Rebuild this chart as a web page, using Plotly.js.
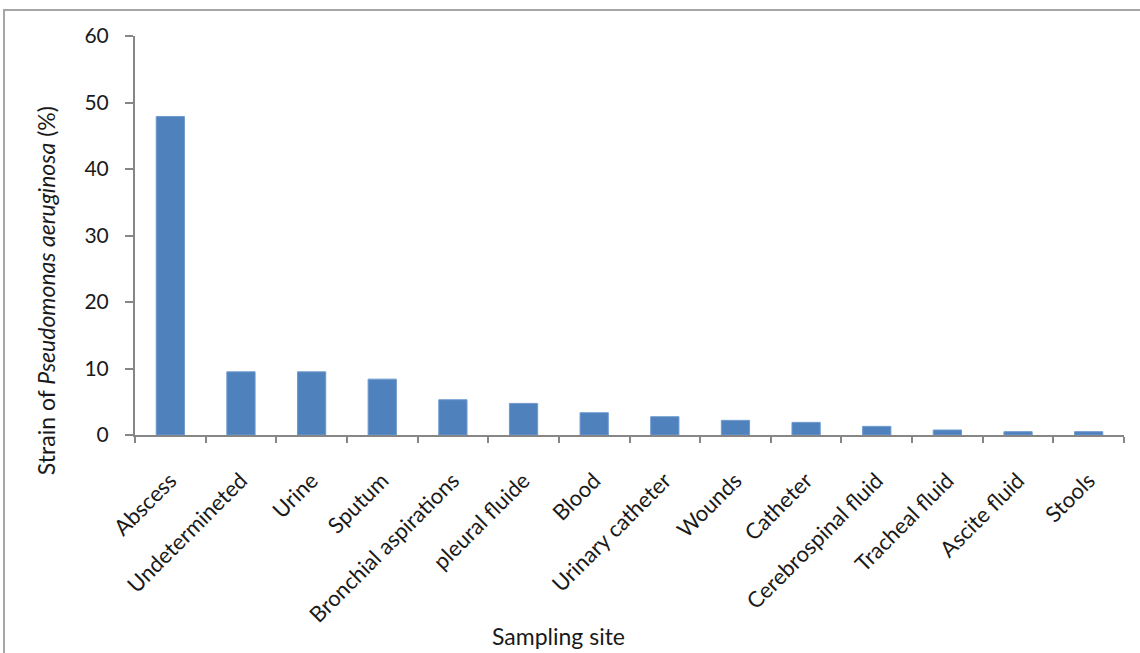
<!DOCTYPE html>
<html>
<head>
<meta charset="utf-8">
<script src="https://cdn.plot.ly/plotly-3.0.1.min.js"></script>
<style>
  html, body { margin: 0; padding: 0; background: #fff; overflow: hidden; }
  #chart { width: 1140px; height: 653px; }
  #frame { position: absolute; left: 3px; top: 9px; width: 1160px; height: 700px;
           border: 2px solid #a6a6a6; pointer-events: none; }
</style>
</head>
<body>
<div id="chart"></div>
<div id="frame"></div>
<script>
const categories = ["Abscess", "Undetermineted", "Urine", "Sputum", "Bronchial aspirations",
  "pleural fluide", "Blood", "Urinary catheter", "Wounds", "Catheter",
  "Cerebrospinal fluid", "Tracheal fluid", "Ascite fluid", "Stools"];
const values = [47.9, 9.5, 9.5, 8.4, 5.3, 4.75, 3.35, 2.75, 2.2, 1.9, 1.3, 0.75, 0.5, 0.5];
const yTicks = [0, 10, 20, 30, 40, 50, 60];

const font = "Lato, 'Open Sans', sans-serif";

const trace = {
  type: "bar",
  x: categories,
  y: values,
  marker: { color: "#4f81bd", line: { color: "#6f9bd0", width: 1 } },
  hoverinfo: "x+y"
};

const layout = {
  width: 1140, height: 653,
  margin: { l: 135, r: 16, t: 36, b: 218 },
  paper_bgcolor: "#ffffff", plot_bgcolor: "#ffffff",
  font: { family: font, size: 21, color: "#000" },
  bargap: 0.6,
  showlegend: false,
  xaxis: {
    type: "category",
    showline: true, linecolor: "#868686", linewidth: 2,
    ticks: "outside", ticklen: 6, tickwidth: 2, tickcolor: "#868686",
    tickson: "boundaries",
    tickangle: -45,
    ticklabelstandoff: 22,
    tickfont: { family: font, size: 22, color: "#1a1a1a" },
    showgrid: false, zeroline: false
  },
  yaxis: {
    range: [0, 60],
    tickvals: yTicks,
    ticktext: yTicks.map(String),
    showline: true, linecolor: "#868686", linewidth: 2,
    ticks: "outside", ticklen: 8, tickwidth: 2, tickcolor: "#868686",
    ticklabelstandoff: 12,
    tickfont: { family: font, size: 21, color: "#1a1a1a" },
    showgrid: false, zeroline: false
  },
  annotations: [
    {
      text: "Strain of <i>Pseudomonas aeruginosa</i> (%)",
      xref: "paper", yref: "paper",
      x: -0.09, y: 0.363, xanchor: "center", yanchor: "middle",
      textangle: -90, showarrow: false,
      font: { family: font, size: 23, color: "#1a1a1a" }
    },
    {
      text: "Sampling site",
      xref: "paper", yref: "paper",
      x: 0.428, y: -0.503, xanchor: "center", yanchor: "middle",
      showarrow: false,
      font: { family: font, size: 23, color: "#1a1a1a" }
    }
  ]
};

Plotly.newPlot("chart", [trace], layout, { displayModeBar: false, staticPlot: true });
</script>
</body>
</html>
